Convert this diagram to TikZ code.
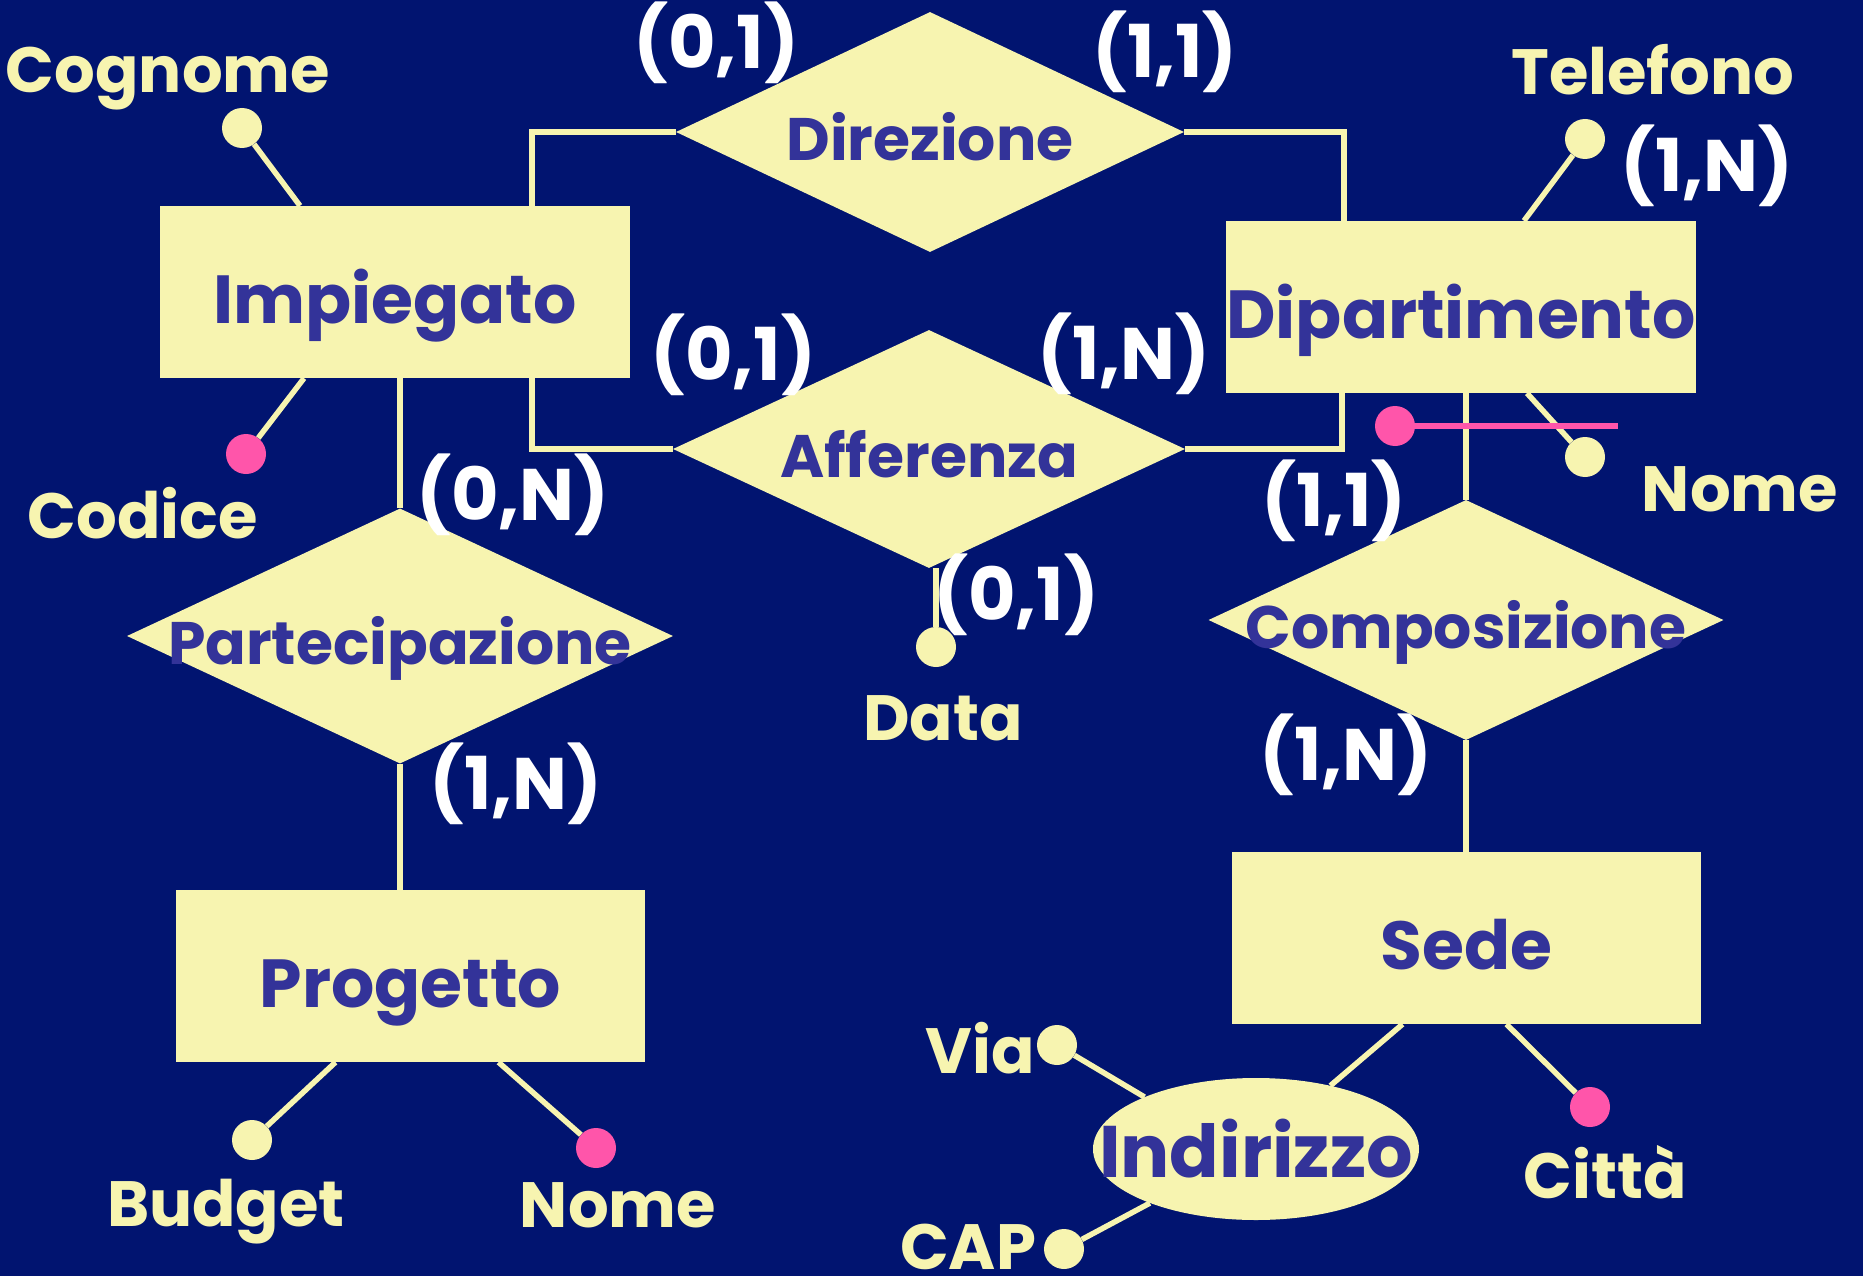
\documentclass[tikz,border=0pt]{standalone}
\usepackage{fontspec}
\setmainfont{Poppins}
\usetikzlibrary{shapes.geometric}
\definecolor{bg}{RGB}{1,20,112}
\definecolor{cream}{RGB}{247,244,176}
\definecolor{ink}{RGB}{51,51,153}
\definecolor{idpink}{RGB}{255,85,170}
\begin{document}
\begin{tikzpicture}[x=1pt,y=-1pt,
  entity/.style={rectangle,fill=cream,minimum width=470pt,minimum height=172pt,inner sep=0pt,
     text=ink,font=\fontsize{68}{72}\selectfont\bfseries,text height=63pt,text depth=0pt},
  rel/.style={diamond,fill=cream,inner sep=0pt},
  rlabel/.style={text=ink,font=\fontsize{60}{64}\selectfont\bfseries,inner sep=0pt,text height=57pt,text depth=0pt},
  conn/.style={draw=cream,line width=5.5pt},
  attr/.style={circle,fill=cream,minimum size=40pt,inner sep=0pt},
  keyattr/.style={circle,fill=idpink,minimum size=40pt,inner sep=0pt},
  alabel/.style={text=cream,font=\fontsize{64}{68}\selectfont\bfseries,inner sep=0pt,anchor=base},
  card/.style={text=white,font=\fontsize{73}{76}\selectfont\bfseries,inner sep=0pt,anchor=base}
]
\fill[bg] (0,0) rectangle (1863,1276);
\useasboundingbox (0,0) rectangle (1863,1276);

% entities
\node[entity] (imp) at (395,292) {Impiegato};
\node[entity] (dip) at (1461,307) {Dipartimento};
\node[entity,minimum width=469pt] (pro) at (410.5,976) {Progetto};
\node[entity,minimum width=469pt] (sed) at (1466.5,938) {Sede};

% relationships
\node[rel,minimum width=508pt,minimum height=240pt,label={[rlabel]center:Direzione}] (dir) at (930,132) {};
\node[rel,minimum width=512pt,minimum height=238pt,label={[rlabel]center:Afferenza}] (aff) at (929,449) {};
\node[rel,minimum width=546pt,minimum height=255pt,label={[rlabel]center:Partecipazione}] (par) at (400,636) {};
\node[rel,minimum width=515pt,minimum height=240pt,label={[rlabel]center:Composizione}] (com) at (1466,620) {};

% composite attribute
\node[ellipse,fill=cream,minimum width=326pt,minimum height=142pt,inner sep=0pt,
      label={[rlabel,font=\fontsize{73}{76}\selectfont\bfseries]center:Indirizzo}] (ind) at (1256,1149) {};

% attribute dots
\node[attr] (cog) at (242,128) {};
\node[keyattr] (cod) at (246,454) {};
\node[attr] (tel) at (1585,139) {};
\node[attr] (nod) at (1585,457) {};
\node[attr] (data) at (936,647) {};
\node[attr] (bud) at (252,1140) {};
\node[keyattr] (nop) at (596,1148) {};
\node[keyattr] (cit) at (1590,1107) {};
\node[attr] (via) at (1057,1045) {};
\node[attr] (cap) at (1064,1249) {};
\node[keyattr] (idk) at (1395,426) {};
\coordinate (ide) at (1618,426);

% relationship connectors
\draw[conn] (dir.west) -| ([xshift=137pt]imp.north);
\draw[conn] (dir.east) -| ([xshift=-117pt]dip.north);
\draw[conn] (aff.west) -| ([xshift=137pt]imp.south);
\draw[conn] (aff.east) -| ([xshift=-119pt]dip.south);
\draw[conn] (par.north |- imp.south) -- (par.north);
\draw[conn] (par.south) -- (par.south |- pro.north);
\draw[conn] (com.north |- dip.south) -- (com.north);
\draw[conn] (com.south) -- (com.south |- sed.north);

% attribute connectors
\draw[conn] (data |- aff.south) -- (data);
\draw[conn] (cog) -- ([xshift=-95pt]imp.north);
\draw[conn] (cod) -- ([xshift=-91pt]imp.south);
\draw[conn] (tel) -- ([xshift=63pt]dip.north);
\draw[conn] (nod) -- ([xshift=66pt]dip.south);
\draw[conn] (bud) -- ([xshift=-75pt]pro.south);
\draw[conn] (nop) -- ([xshift=88pt]pro.south);
\draw[conn] ([xshift=-64pt]sed.south) -- (ind);
\draw[conn] ([xshift=40pt]sed.south) -- (cit);
\draw[conn] (via) -- (ind.155);
\draw[conn] (cap) -- (ind.207);

% external identifier
\draw[idpink,line width=6.5pt] (idk.center) -- (ide);

% attribute labels
\node[alabel] (lcog) at (168,93) {Cognome};
\node[alabel] (lcod) at (143,538) {Codice};
\node[alabel] (ltel) at (1653,95) {Telefono};
\node[alabel] (lnod) at (1740,511) {Nome};
\node[alabel] (ldata) at (943,740) {Data};
\node[alabel] (lbud) at (226,1226) {Budget};
\node[alabel] (lnop) at (618,1227) {Nome};
\node[alabel] (lvia) at (980,1073) {Via};
\node[alabel] (lcap) at (968,1269) {CAP};
\node[alabel] (lcit) at (1605,1198) {Città};

% cardinalities
\node[card] (c1) at (716,69) {(0,1)};
\node[card] (c2) at (1165,78) {(1,1)};
\node[card] (c3) at (733,380) {(0,1)};
\node[card] (c4) at (1124,379) {(1,N)};
\node[card] (c5) at (513,520) {(0,N)};
\node[card] (c6) at (516,809) {(1,N)};
\node[card] (c7) at (1016,620) {(0,1)};
\node[card] (c8) at (1334,526) {(1,1)};
\node[card] (c9) at (1346,780) {(1,N)};
\node[card] (c10) at (1707,192) {(1,N)};
\end{tikzpicture}
\end{document}
